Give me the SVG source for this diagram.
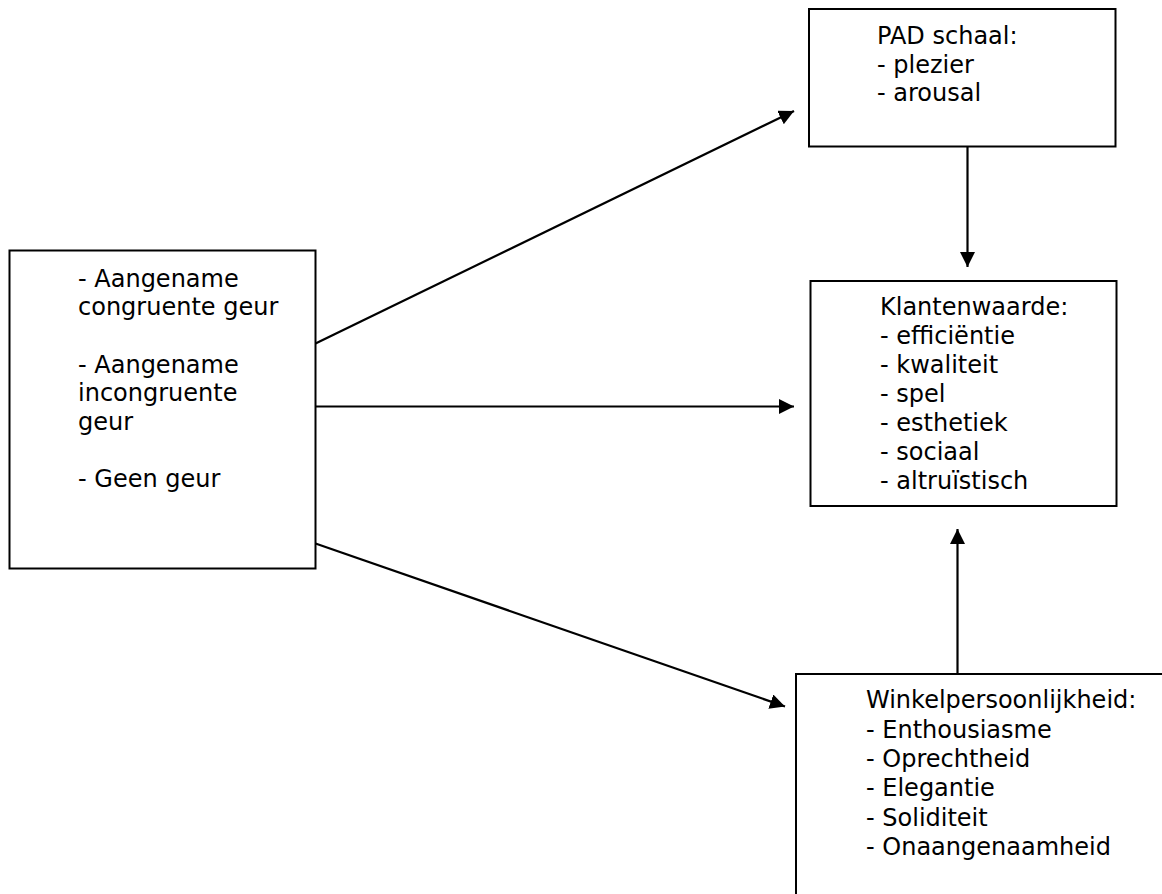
<svg xmlns="http://www.w3.org/2000/svg" width="1162" height="894" viewBox="0 0 1162 894">
<style>
.box{fill:#fff;stroke:#000;stroke-width:2}
.t{font-family:"DejaVu Sans","Verdana",sans-serif;font-size:24px;fill:#000}
.c{stroke:#000;stroke-width:2.2;fill:none;marker-end:url(#ah)}
</style>
<defs>
<marker id="ah" markerUnits="userSpaceOnUse" markerWidth="16" markerHeight="16" refX="15" refY="7.5" orient="auto" viewBox="0 0 16 16">
<path d="M0,0 L15,7.5 L0,15 z" fill="#000"/>
</marker>
</defs>
<rect width="1162" height="894" fill="#fff"/>
<g id="connectors">
<line class="c" x1="315.5" y1="343.5" x2="794" y2="111"/>
<line class="c" x1="315.5" y1="406.5" x2="794" y2="406.5"/>
<line class="c" x1="315.5" y1="543.5" x2="785" y2="706.5"/>
<line class="c" x1="967.5" y1="147" x2="967.5" y2="267"/>
<line class="c" x1="957.5" y1="674" x2="957.5" y2="529"/>
</g>
<g id="node-geur">
<rect class="box" x="9.5" y="250.5" width="306" height="318"/>
<text class="t" x="78" y="286.7">- Aangename</text>
<text class="t" x="78" y="315.3">congruente geur</text>
<text class="t" x="78" y="372.5">- Aangename</text>
<text class="t" x="78" y="401.1">incongruente</text>
<text class="t" x="78" y="429.7">geur</text>
<text class="t" x="78" y="486.9">- Geen geur</text>
</g>
<g id="node-pad">
<rect class="box" x="809" y="9" width="306.5" height="137.5"/>
<text class="t" x="877" y="44.3">PAD schaal:</text>
<text class="t" x="877" y="72.8">- plezier</text>
<text class="t" x="877" y="101.3">- arousal</text>
</g>
<g id="node-klantenwaarde">
<rect class="box" x="810.5" y="281" width="306" height="225"/>
<text class="t" x="880" y="315">Klantenwaarde:</text>
<text class="t" x="880" y="344">- efficiëntie</text>
<text class="t" x="880" y="373">- kwaliteit</text>
<text class="t" x="880" y="402">- spel</text>
<text class="t" x="880" y="431">- esthetiek</text>
<text class="t" x="880" y="460">- sociaal</text>
<text class="t" x="880" y="489">- altruïstisch</text>
</g>
<g id="node-winkel">
<rect class="box" x="796" y="674" width="380" height="240"/>
<text class="t" x="866" y="708.3">Winkelpersoonlijkheid:</text>
<text class="t" x="866" y="737.6">- Enthousiasme</text>
<text class="t" x="866" y="766.9">- Oprechtheid</text>
<text class="t" x="866" y="796.2">- Elegantie</text>
<text class="t" x="866" y="825.5">- Soliditeit</text>
<text class="t" x="866" y="854.8">- Onaangenaamheid</text>
</g>
</svg>
